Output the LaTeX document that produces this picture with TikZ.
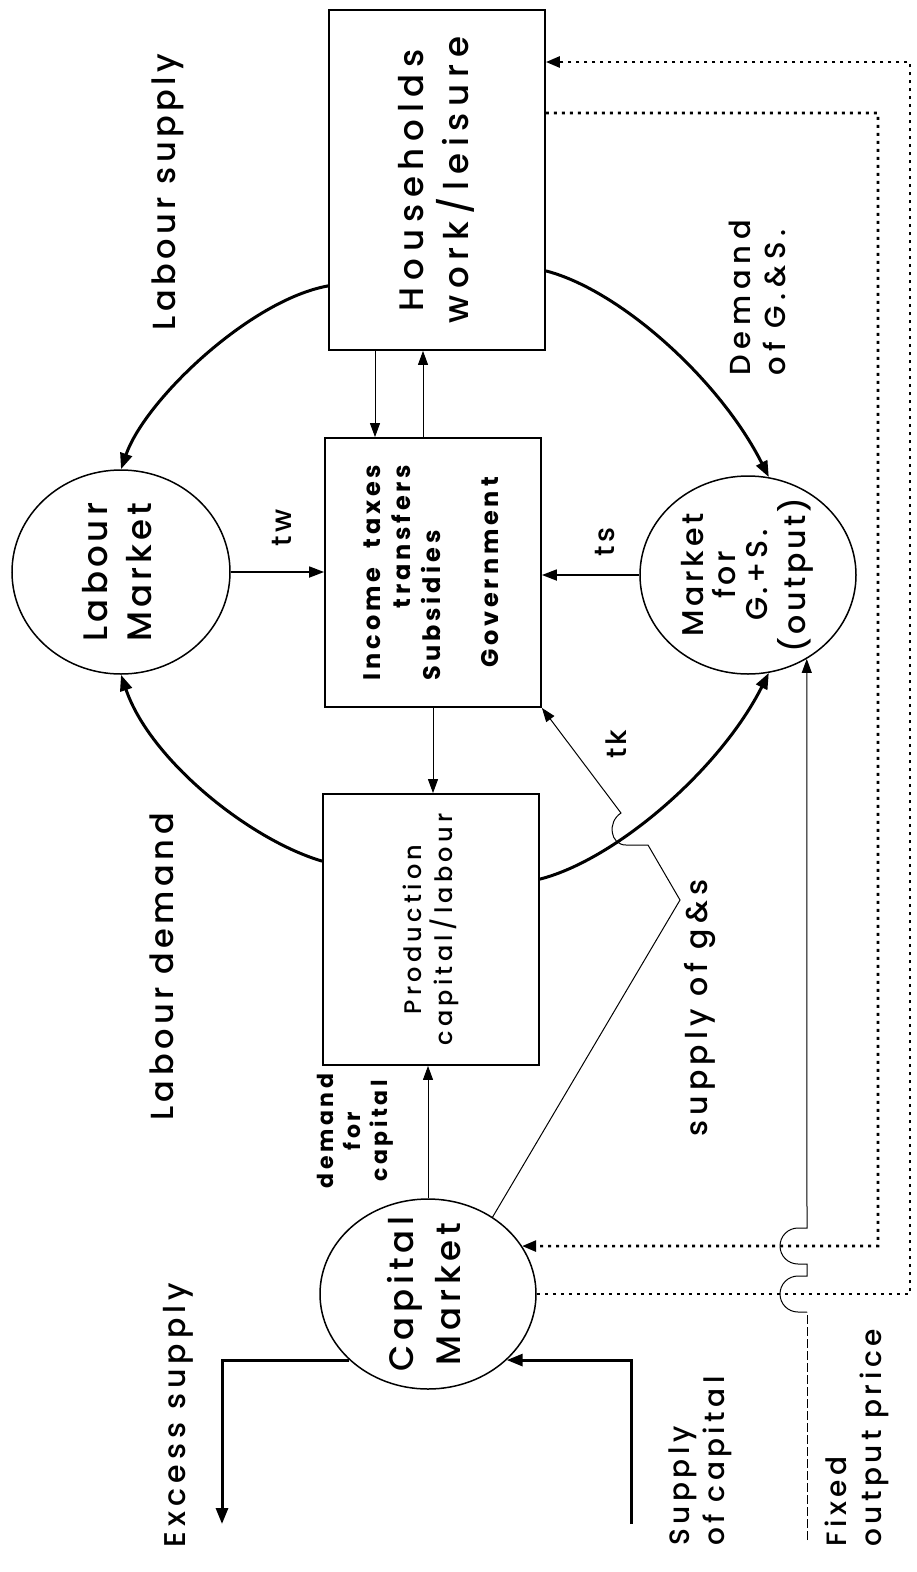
\documentclass[tikz,border=0pt]{standalone}
\usepackage{fontspec}
\setmainfont{Poppins}[UprightFont={* Medium},BoldFont={* Bold},LetterSpace=15]
\usetikzlibrary{arrows.meta,shapes.geometric}
\newcommand{\TxBig}{\fontsize{34}{44}\selectfont\addfontfeature{LetterSpace=20}}
\newcommand{\TxCirc}{\fontsize{34}{44}\selectfont\addfontfeature{LetterSpace=12}}
\newcommand{\TxCap}{\fontsize{34}{47}\selectfont\addfontfeature{LetterSpace=14}}
\newcommand{\TxLab}{\fontsize{32}{38}\selectfont\addfontfeature{LetterSpace=14}}
\newcommand{\TxEs}{\fontsize{30}{36}\selectfont\addfontfeature{LetterSpace=17}}
\newcommand{\TxMkt}{\fontsize{30}{32}\selectfont\addfontfeature{LetterSpace=12}}
\newcommand{\TxDem}{\fontsize{29}{35}\selectfont\addfontfeature{LetterSpace=20}}
\newcommand{\TxMid}{\fontsize{28}{35}\selectfont\addfontfeature{LetterSpace=16}}
\newcommand{\TxProd}{\fontsize{24}{30}\selectfont\addfontfeature{LetterSpace=18}}
\newcommand{\TxGov}{\fontsize{24}{30}\selectfont\bfseries\addfontfeature{LetterSpace=16}}
\newcommand{\TxT}{\fontsize{28}{32}\selectfont\addfontfeature{LetterSpace=10}}
\newcommand{\TxSm}{\fontsize{22}{27}\selectfont\bfseries\addfontfeature{LetterSpace=16}}
\newcommand{\RotC}[1]{\smash{\makebox[0pt]{\raisebox{-0.5\height}{\rotatebox{90}{#1}}}}}
\begin{document}
\begin{tikzpicture}[x=1pt,y=-1pt,
  box/.style={draw,line width=1.8pt,rectangle,inner sep=0pt},
  circ/.style={draw,line width=1.5pt,ellipse,inner sep=0pt},
  lbl/.style={inner sep=0pt},
  thickarr/.style={line width=3pt,-{Triangle[length=16pt,width=12pt]}},
  medarr/.style={line width=1.8pt,-{Triangle[length=15pt,width=11pt]}},
  thinarr/.style={line width=1pt,-{Triangle[length=14pt,width=10pt]}},
  dotarr/.style={line width=2.6pt,dash pattern=on 3pt off 5pt,-{Triangle[length=14pt,width=11pt]}},
]
\fill[white] (0,0) rectangle (916,1572);
\useasboundingbox (0,0) rectangle (916,1572);

% boxes
\node[box,minimum width=216pt,minimum height=340pt] (hh) at (437,180)
  {\RotC{\TxBig\begin{tabular}{@{}c@{}}Households\\work/leisure\end{tabular}}};
\node[box,minimum width=216pt,minimum height=269pt] (gov) at (433,572.5)
  {\RotC{\TxGov\begin{tabular}{@{}l@{}}Income\hspace{0.8em}taxes\\\multicolumn{1}{@{}r@{}}{transfers}\\Subsidies\\[28pt]\multicolumn{1}{@{}c@{}}{Government}\end{tabular}}};
\node[box,minimum width=216pt,minimum height=271pt] (prod) at (431,929.5)
  {\RotC{\TxProd\begin{tabular}{@{}c@{}}Production\\capital/labour\end{tabular}}};

% circles
\node[circ,minimum width=218pt,minimum height=204pt] (lab) at (121,572)
  {\RotC{\TxCirc\begin{tabular}{@{}c@{}}Labour\\Market\end{tabular}}};
\node[circ,minimum width=216pt,minimum height=198pt] (mkt) at (748,575)
  {\RotC{\TxMkt\begin{tabular}{@{}c@{}}Market\\for\\G.+S.\\(output)\end{tabular}}};
\node[circ,minimum width=216pt,minimum height=190pt] (cap) at (428,1294)
  {\RotC{\TxCap\begin{tabular}{@{}c@{}}Capital\\Market\end{tabular}}};

% labels
\node[lbl,rotate=90,font=\TxLab] (ls) at (168,192) {Labour supply};
\node[lbl,rotate=90,font=\TxLab] (ld) at (162,967) {Labour demand};
\node[lbl,rotate=90,font=\TxEs] (es) at (178,1415) {Excess supply};
\node[lbl,rotate=90,font=\TxEs] (sg) at (700,1008) {supply of g\&s};
\node[lbl,rotate=90,font=\TxDem,align=left] (dg) at (757,298) {Demand\\of G.\&S.};
\node[lbl,rotate=90,font=\TxMid,align=left] (sc) at (700,1461) {Supply\\of capital};
\node[lbl,rotate=90,font=\TxMid,align=left] (fo) at (857,1438) {Fixed\\output price};
\node[lbl,rotate=90,font=\TxT] (tw) at (282,528) {tw};
\node[lbl,rotate=90,font=\TxT] (ts) at (605,542) {ts};
\node[lbl,rotate=90,font=\TxT] (tk) at (616,744) {tk};
\node[lbl,rotate=90,font=\TxSm,align=center] (dc) at (355,1131) {demand\\for\\capital};

% thin vertical connectors
\draw[thinarr] ([xshift=-62pt]hh.south) -- ([xshift=-58pt]gov.north);
\draw[thinarr] ([xshift=-10pt]gov.north) -- ([xshift=-14pt]hh.south);
\draw[thinarr] (gov.south) -- (gov.south |- prod.north);
\draw[thinarr] (cap.north) -- (cap.north |- prod.south);

% tw and ts
\draw[medarr] (lab.east) -- (lab.east -| gov.west);
\draw[medarr] (mkt.west) -- (mkt.west -| gov.east);

% thick curves
\draw[thickarr] ([yshift=65pt]hh.south west) .. controls (250,300) and (145,400) .. (lab.north);
\draw[thickarr] ([yshift=80pt]hh.south east) .. controls (620,290) and (720,380) .. (mkt.78);
\draw[thickarr] ([yshift=-68pt]prod.north west) .. controls (250,840) and (150,760) .. (lab.south);
\draw[thickarr] ([yshift=-86pt]prod.north east) .. controls (615,860) and (720,770) .. (mkt.282);

% tk / supply of g&s line
\draw[thinarr] (cap.50) -- (680,900) -- (648,845) -- (626,845)
  .. controls (610,845) and (607,822) .. (621,813) -- (gov.south east);

% excess supply and supply of capital
\coordinate (esend) at (222,1524);
\coordinate (scstart) at (631,1524);
\draw[thickarr] (cap.220) -| (esend);
\draw[thickarr] (scstart) |- (cap.320);

% fixed output price
\coordinate (fpstart) at (807,1540);
\draw[line width=1pt,dash pattern=on 9pt off 3pt] (fpstart) -- (807,1312);
\draw[thinarr] (807,1312) -- (798,1312) arc[start angle=270,end angle=90,radius=18pt]
  -- (807,1276) -- (807,1264) -- (798,1264) arc[start angle=270,end angle=90,radius=18pt]
  -- (807,1228) -- (mkt.305);

% dotted feedback loops
\draw[dotarr] (cap.east) -- (910,1294) -- (910,62) -- ([yshift=118pt]hh.east);
\draw[dotarr] ([yshift=67pt]hh.east) -- (878,113) -- (878,1246) -- (cap.27);
\end{tikzpicture}
\end{document}
